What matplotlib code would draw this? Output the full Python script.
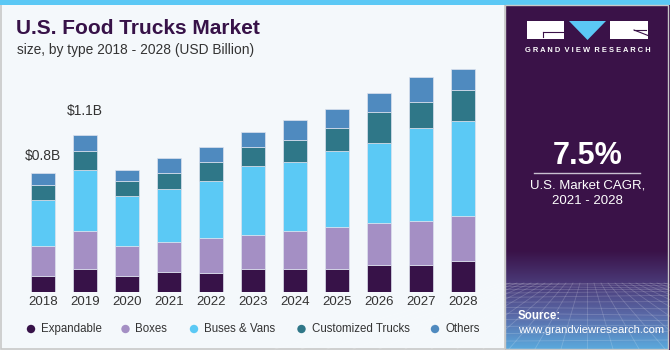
import matplotlib.pyplot as plt
import numpy as np
from matplotlib.patches import Rectangle, Polygon, Circle
from matplotlib.colors import LinearSegmentedColormap

years = ['2018', '2019', '2020', '2021', '2022', '2023', '2024', '2025', '2026', '2027', '2028']
expandable = [0.112, 0.161, 0.112, 0.140, 0.131, 0.161, 0.161, 0.161, 0.189, 0.189, 0.217]
boxes = [0.212, 0.266, 0.210, 0.210, 0.245, 0.240, 0.266, 0.294, 0.294, 0.308, 0.317]
buses_vans = [0.320, 0.427, 0.350, 0.371, 0.401, 0.478, 0.480, 0.531, 0.559, 0.650, 0.662]
customized = [0.105, 0.133, 0.105, 0.112, 0.131, 0.137, 0.158, 0.161, 0.215, 0.180, 0.217]
others = [0.084, 0.112, 0.075, 0.105, 0.105, 0.106, 0.136, 0.133, 0.137, 0.175, 0.147]
labels = ['Expandable', 'Boxes', 'Buses & Vans', 'Customized Trucks', 'Others']
colors = ['#371248', '#a48fc4', '#5bc9f5', '#2f7788', '#4f8abf']
callouts = {0: '$0.8B', 1: '$1.1B'}

fig = plt.figure(figsize=(6.7, 3.5), dpi=100)
fig.patch.set_facecolor('#f4f8fb')

# background drawn in pixel coordinates
bg = fig.add_axes([0, 0, 1, 1])
bg.set_xlim(0, 670)
bg.set_ylim(350, 0)
bg.axis('off')
bg.add_patch(Rectangle((0.5, 4), 504, 345, fc='#f4f8fb', ec='#c8c8c8', lw=1.2))
bg.add_patch(Rectangle((0, 0), 670, 5, fc='#5bc8f5', ec='none'))
bg.add_patch(Rectangle((505, 5), 165, 345, fc='#3a1248', ec='none'))

# bottom glow of the side panel
cmap = LinearSegmentedColormap.from_list('glow', ['#3a1248', '#4a3a78', '#5a6aa8', '#5aa8dc'])
grad = np.linspace(0, 1, 100).reshape(-1, 1)
bg.imshow(grad, cmap=cmap, extent=[505, 668, 349, 250], aspect='auto', zorder=1)
bg.set_xlim(0, 670)
bg.set_ylim(350, 0)
for i in range(14):
    yy = 283 + (i / 13) ** 1.6 * 66
    bg.plot([505, 668], [yy, yy + 2 * np.sin(i)], color='white', alpha=0.18, lw=0.6, zorder=2)
for i in range(-12, 13):
    bg.plot([587 + i * 7, 587 + i * 26], [283, 349], color='white', alpha=0.18, lw=0.6, zorder=2)
bg.add_patch(Rectangle((505, 5), 163, 344, fc='none', ec='#c8c8c8', lw=1, zorder=3))

# logo
bg.add_patch(Rectangle((527, 21), 37, 18, fc='white', ec='none', zorder=3))
bg.add_patch(Polygon([[569, 21], [606, 21], [587.5, 40]], closed=True, fc='#5bc8f5', ec='none', zorder=3))
bg.add_patch(Rectangle((610, 21), 38, 18, fc='white', ec='none', zorder=3))
bg.plot([543, 563], [32, 32], color='#3a1248', lw=0.8, zorder=4)
bg.plot([543, 543], [32, 37], color='#3a1248', lw=0.8, zorder=4)
bg.plot([634, 648], [30, 35.5], color='#3a1248', lw=0.8, zorder=4)
bg.plot([634, 646], [30, 30], color='#3a1248', lw=0.8, zorder=4)
bg.text(587.5, 51, '  '.join(' '.join(w) for w in 'GRAND VIEW RESEARCH'.split()), color='white',
        fontsize=5.4, fontweight='bold', ha='center', va='center', family='Liberation Sans', zorder=4)

bg.text(587.5, 156, '7.5%', color='white', fontsize=22, fontweight='bold',
        ha='center', va='center', family='Liberation Sans', zorder=4)
bg.plot([534, 640], [172.5, 172.5], color='#c8c0d0', lw=1, zorder=4)
bg.text(587.5, 186, 'U.S. Market CAGR,', color='white', fontsize=9.5,
        ha='center', va='center', family='Liberation Sans', zorder=4)
bg.text(587.5, 201, '2021 - 2028', color='white', fontsize=9.5,
        ha='center', va='center', family='Liberation Sans', zorder=4)
bg.text(518, 316, 'Source:', color='white', fontsize=8.3, fontweight='bold',
        ha='left', va='center', family='Liberation Sans', zorder=4)
bg.text(518, 330, 'www.grandviewresearch.com', color='white', fontsize=8.1,
        ha='left', va='center', family='Liberation Sans', zorder=4)

# titles
bg.text(16, 28.5, 'U.S. Food Trucks Market', color='#371248', fontsize=15, fontweight='heavy',
        ha='left', va='center', family='Liberation Sans')
bg.text(17, 50, 'size, by type 2018 - 2028 (USD Billion)', color='#333333', fontsize=9.9,
        ha='left', va='center', family='Liberation Sans')

# legend
legend_x = [31, 125.5, 194, 301.5, 435]
for x, lab, c in zip(legend_x, labels, colors):
    bg.add_patch(Circle((x, 329), 4.2, fc=c, ec='none'))
    bg.text(x + 10, 329, lab, color='#333333', fontsize=8.3, ha='left', va='center',
            family='Liberation Sans')

# chart
ax = fig.add_axes([22 / 670, 58 / 350, 462 / 670, 232 / 350])
ax.patch.set_alpha(0)
x = np.arange(len(years))
series = [expandable, boxes, buses_vans, customized, others]
bottom = np.zeros(len(years))
for vals, c, lab in zip(series, colors, labels):
    ax.bar(x, vals, bottom=bottom, width=0.575, color=c, edgecolor='#dde2ee', linewidth=0.5, label=lab)
    bottom += np.array(vals)

offsets = {0: 10, 1: 17}
for i, txt in callouts.items():
    ax.annotate(txt, (x[i], bottom[i]), xytext=(0, offsets[i] * 0.72), textcoords='offset points',
                ha='center', va='bottom', fontsize=10, color='#333333', family='Liberation Sans')

ax.set_xlim(-0.5, len(years) - 0.5)
ax.set_ylim(0, 1.622)
ax.set_xticks(x)
ax.set_xticklabels(years, fontsize=9.5, color='#333333', family='Liberation Sans')
ax.tick_params(axis='x', length=0, pad=3)
ax.set_yticks([])
for s in ax.spines.values():
    s.set_visible(False)

fig.savefig('out.png', dpi=100, facecolor=fig.get_facecolor())
